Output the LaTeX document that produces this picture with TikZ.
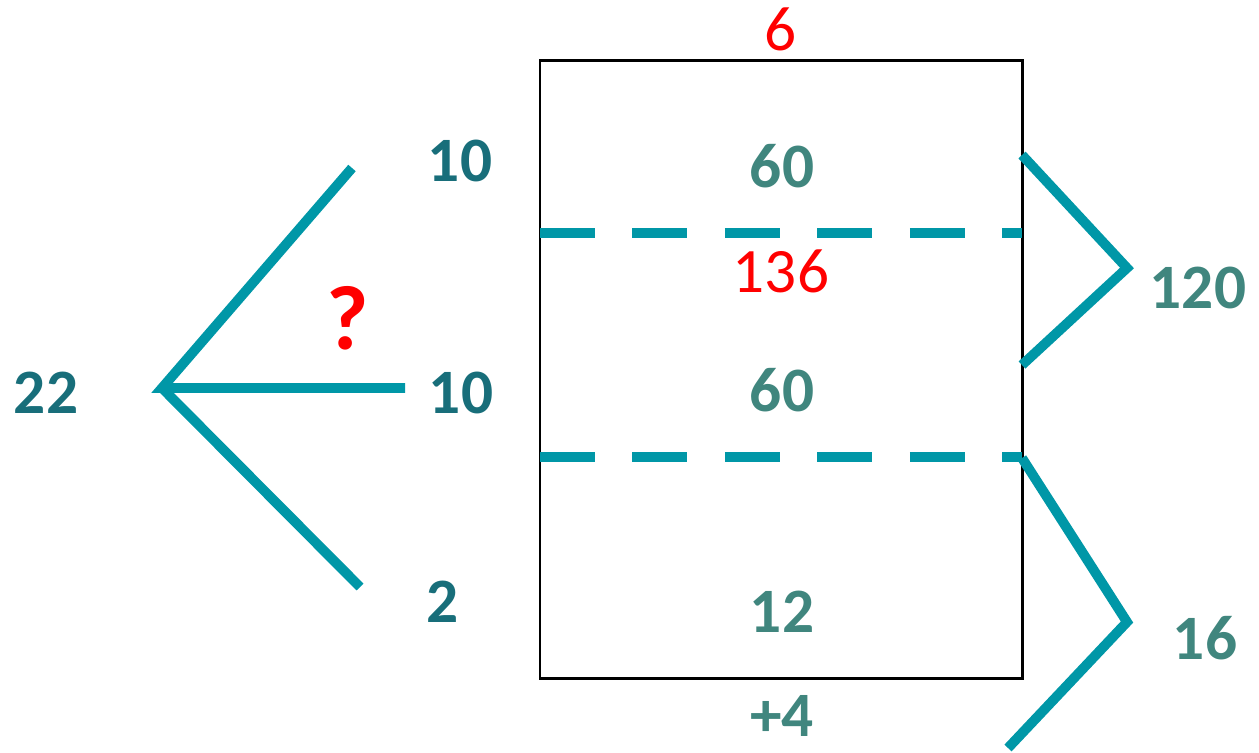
\documentclass[tikz,border=0pt]{standalone}
\usepackage{fontspec}
\setmainfont{Carlito}
\usetikzlibrary{positioning}
\definecolor{tealline}{RGB}{0,151,167}
\definecolor{darkteal}{RGB}{24,110,122}
\definecolor{grayteal}{RGB}{64,134,126}
\tikzset{
  num/.style={inner sep=0pt,font=\fontsize{36}{40}\selectfont\bfseries},
  branch/.style={tealline,line width=5.6pt},
  cut/.style={tealline,line width=6pt,dash pattern=on 1.1cm off 0.75cm}
}

\begin{document}
\begin{tikzpicture}[x=0.02cm,y=-0.02cm]
\useasboundingbox (0,0) rectangle (1259,752);
% the box
\draw[line width=1.7pt] (540,60) rectangle (1022,678);
\coordinate (cutA) at (540,233); \coordinate (cutA') at (1022,233);
\coordinate (cutB) at (540,457); \coordinate (cutB') at (1022,457);
\draw[cut] (cutA)--(cutA');
\draw[cut] (cutB)--(cutB');
\node[num,red,font=\fontsize{36}{40}\selectfont] (top) at (781,29) {6};
\node[num,grayteal] (upper) at (782,166) {60};
\node[num,red,font=\fontsize{36}{40}\selectfont] (area) at (781,271) {136};
\node[num,grayteal] (middle) at (782,390) {60};
\node[num,grayteal] (lower) at (782,612) {12};
\node[num,grayteal] (bottom) at (782,716) {+4};
% left fork
\coordinate (root) at (162,388);
\coordinate (tipA) at (352,168);
\coordinate (tipB) at (405,388);
\coordinate (tipC) at (360,587);
\draw[branch] (tipA)--(root)--(tipB);
\draw[branch] (root)--(tipC);
\node[num,darkteal] (total) at (46,393) {22};
\node[num,darkteal] (partA) at (460,161) {10};
\node[num,darkteal] (partB) at (461,393) {10};
\node[num,darkteal] (partC) at (443,602) {2};
\node[num,red,font=\fontsize{52}{58}\selectfont\bfseries] (ask) at (348,318) {?};
% right braces
\coordinate (bA) at (1022,155);
\coordinate (bB) at (1127,268);
\coordinate (bC) at (1022,365);
\coordinate (bD) at (1022,458);
\coordinate (bE) at (1127,622);
\coordinate (bF) at (1008,748);
\draw[branch] (bA)--(bB)--(bC);
\draw[branch] (bD)--(bE)--(bF);
\node[num,grayteal] (sumA) at (1198,288) {120};
\node[num,grayteal] (sumB) at (1205,638) {16};
\end{tikzpicture}
\end{document}
